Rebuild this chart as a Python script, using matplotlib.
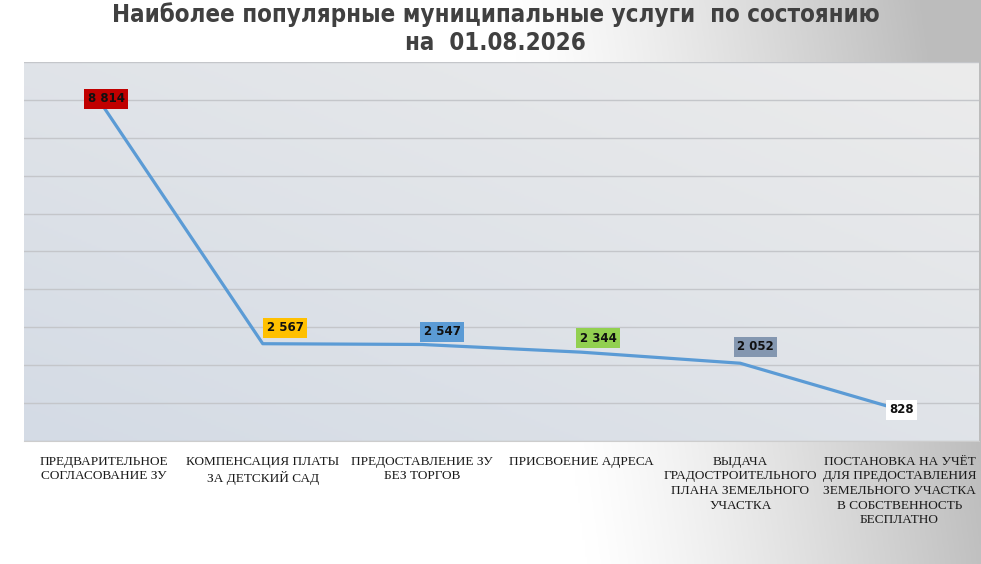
import matplotlib
matplotlib.use("Agg")
import matplotlib.pyplot as plt
import numpy as np
from matplotlib.colors import LinearSegmentedColormap

# ---------------------------------------------------------------------------
# Data
# ---------------------------------------------------------------------------
TITLE = "Наиболее популярные муниципальные услуги  по состоянию\nна  01.08.2026"

categories = [
    "ПРЕДВАРИТЕЛЬНОЕ\nСОГЛАСОВАНИЕ ЗУ",
    "КОМПЕНСАЦИЯ ПЛАТЫ\nЗА ДЕТСКИЙ САД",
    "ПРЕДОСТАВЛЕНИЕ ЗУ\nБЕЗ ТОРГОВ",
    "ПРИСВОЕНИЕ АДРЕСА",
    "ВЫДАЧА\nГРАДОСТРОИТЕЛЬНОГО\nПЛАНА ЗЕМЕЛЬНОГО\nУЧАСТКА",
    "ПОСТАНОВКА НА УЧЁТ\nДЛЯ ПРЕДОСТАВЛЕНИЯ\nЗЕМЕЛЬНОГО УЧАСТКА\nВ СОБСТВЕННОСТЬ\nБЕСПЛАТНО",
]
values = [8814, 2567, 2547, 2344, 2052, 828]
value_labels = ["8 814", "2 567", "2 547", "2 344", "2 052", "828"]

# label styling
label_colors = ["#C00000", "#FFC000", "#5B9BD5", "#92D050", "#8497B0", "#FFFFFF"]
label_offsets = [(2, 6), (16, 11.5), (14.5, 9), (12.5, 10), (11, 12), (1.5, 0)]  # points

LINE_COLOR = "#5B9BD5"


def main() -> None:
    fig = plt.figure(figsize=(9.81, 5.64), dpi=100)

    # figure background: white on the left fading to grey on the right
    bg = fig.add_axes([0, 0, 1, 1], zorder=-10)
    xs = np.linspace(0, 1, 400)
    ys = np.linspace(0, 1, 200)
    X, Y = np.meshgrid(xs, ys)
    t = np.clip((X + 0.08 * Y - 0.6) / 0.42, 0, 1)
    shade = 1.0 - 0.26 * t ** 1.2
    bg.imshow(np.dstack([shade, shade, shade]), extent=[0, 1, 0, 1],
              aspect="auto", origin="lower")
    bg.set_axis_off()

    ax = fig.add_axes([24 / 981, 1 - 441 / 564, 955 / 981, 379 / 564])
    ax.set_facecolor("none")

    # plot-area gradient (bluish grey lower-left -> light grey upper-right)
    cmap = LinearSegmentedColormap.from_list("pa", ["#d4dbe5", "#ececec"])
    grad = (X + Y) / 2
    ax.imshow(grad, extent=[-0.5, len(values) - 0.5, 0, 10000], aspect="auto",
              origin="lower", cmap=cmap, zorder=0)

    x = np.arange(len(values))
    ax.plot(x, values, color=LINE_COLOR, linewidth=2.3, zorder=3,
            solid_capstyle="round")

    for xi, v, lab, col, off in zip(x, values, value_labels, label_colors, label_offsets):
        ax.annotate(lab, (xi, v), xytext=off, textcoords="offset points",
                    ha="center", va="center", fontsize=8.5, fontweight="bold",
                    color="#111111", zorder=5,
                    bbox=dict(boxstyle="square,pad=0.3", fc=col, ec="none"))

    ax.set_xlim(-0.5, len(values) - 0.5)
    ax.set_ylim(0, 10000)
    ax.set_yticks(np.arange(0, 10001, 1000))
    ax.yaxis.grid(True, color="#c4c6ca", linewidth=1.0, zorder=1)
    ax.set_axisbelow(True)
    ax.tick_params(axis="y", left=False, labelleft=False)
    ax.set_xticks(x)
    ax.set_xticklabels(categories, fontfamily="Liberation Serif", fontsize=9.5,
                       color="#1a1a1a", va="top", linespacing=1.3)
    ax.tick_params(axis="x", bottom=False, pad=7)
    for s in ax.spines.values():
        s.set_visible(False)
    ax.spines["bottom"].set_visible(True)
    ax.spines["bottom"].set_color("#cdcdcd")

    fig.text(0.5 + 5 / 981, 1 - 28.5 / 564, TITLE, ha="center", va="center",
             fontsize=17.3, fontweight="bold", color="#404040",
             fontfamily="DejaVu Sans", fontstretch="condensed",
             linespacing=1.25)

    fig.savefig("out.png", dpi=100)


if __name__ == "__main__":
    main()
